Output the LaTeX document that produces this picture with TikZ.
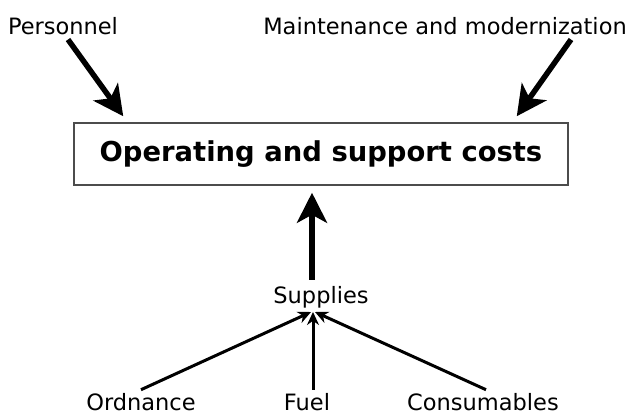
\documentclass[tikz,border=0pt]{standalone}
\usepackage{fontspec}
\setmainfont{DejaVu Sans}
\usetikzlibrary{arrows.meta}

\begin{document}
\begin{tikzpicture}[x=1pt,y=-1pt,
  lbl/.style={font=\fontsize{22.5}{26}\selectfont,inner sep=0pt,anchor=base},
  costbox/.style={draw=black!70,line width=1.5pt,minimum width=494pt,minimum height=62pt,
    font=\bfseries\fontsize{27.4}{32}\selectfont},
  bigarrow/.style={line width=5.5pt,-{Stealth[length=30pt,width=30pt,inset=8pt]}},
  thinarrow/.style={line width=3pt,-{Stealth[length=13pt,width=12pt]}}]
  \useasboundingbox (0,0) rectangle (634,414);
  \node[lbl] (pers) at (63,35) {Personnel};
  \node[lbl] (maint) at (445,35) {Maintenance and modernization};
  \node[costbox] (costs) at (321,154) {Operating and support costs};
  \node[lbl] (supp) at (321,303) {Supplies};
  \node[lbl] (ordn) at (141,410) {Ordnance};
  \node[lbl] (fuel) at (307,410) {Fuel};
  \node[lbl] (cons) at (483,410) {Consumables};
  \coordinate (tip) at (313,312);
  \draw[bigarrow] ([xshift=5pt,yshift=-4pt]pers.south) -- ([xshift=50pt,yshift=6pt]costs.north west);
  \draw[bigarrow] ([xshift=126pt,yshift=-4pt]maint.south) -- ([xshift=-52pt,yshift=6pt]costs.north east);
  \draw[bigarrow,shorten >=7pt] ([xshift=-9pt,yshift=6pt]supp.north) -- ([xshift=-9pt]costs.south);
  \draw[thinarrow] ([yshift=3pt]ordn.north) -- ([xshift=-2pt]tip);
  \draw[thinarrow] ([xshift=6pt,yshift=3pt]fuel.north) -- (tip);
  \draw[thinarrow] ([xshift=3pt,yshift=3pt]cons.north) -- ([xshift=2pt]tip);
\end{tikzpicture}
\end{document}
